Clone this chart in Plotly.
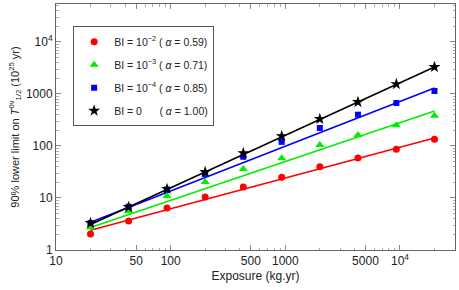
import plotly.graph_objects as go

exposure = [20, 43, 93, 200, 430, 930, 2000, 4300, 9300, 20000]
bi_1e2 = [2.04, 3.6, 6.4, 10.4, 16.3, 25, 40, 59, 87, 135]
bi_1e3 = [2.7, 5.6, 10.9, 20.4, 36, 58, 105, 162, 250, 380]
bi_1e4 = [3.3, 6.8, 14.5, 29, 62, 120, 222, 400, 670, 1140]
bi_0 = [3.3, 6.7, 14.9, 31.6, 73, 155, 330, 700, 1550, 3300]

fit_x = [20, 20000]
fit_1e2 = [2.4, 142]
fit_1e3 = [2.7, 470]
fit_1e4 = [3.4, 1310]
fit_0 = [3.1, 3300]

names = [
    "BI = 10<sup>\u22122</sup> ( <i>\u03b1</i> = 0.59)",
    "BI = 10<sup>\u22123</sup> ( <i>\u03b1</i> = 0.71)",
    "BI = 10<sup>\u22124</sup> ( <i>\u03b1</i> = 0.85)",
    "BI = 0\u00a0\u00a0\u00a0\u00a0\u00a0 ( <i>\u03b1</i> = 1.00)",
]
colors = ["#ff0000", "#00ee00", "#0000ff", "#000000"]
symbols = ["circle", "triangle-up", "square", "star"]
sizes = [7, 8, 6, 9]
series = [bi_1e2, bi_1e3, bi_1e4, bi_0]
fits = [fit_1e2, fit_1e3, fit_1e4, fit_0]

xtickvals = [10, 50, 100, 500, 1000, 5000, 10000]
xticktext = ["10", "50", "100", "500", "1000", "5000", "10<sup>4</sup>"]
ytickvals = [1, 10, 100, 1000, 10000]
yticktext = ["1", "10", "100", "1000", "10<sup>4</sup>"]

minor_vals = []
for d in [1, 10, 100, 1000, 10000]:
    for m in range(2, 10):
        minor_vals.append(m * d)

fig = go.Figure()
for i in range(4):
    fig.add_trace(go.Scatter(x=fit_x, y=fits[i], mode="lines",
                             line=dict(color=colors[i], width=1.6),
                             showlegend=False, hoverinfo="skip"))
for i in range(4):
    fig.add_trace(go.Scatter(x=exposure, y=series[i], mode="markers", name=names[i],
                             marker=dict(color=colors[i], symbol=symbols[i], size=sizes[i],
                                         line=dict(width=0)),
                             legendgroup=str(i)))

axis_common = dict(
    type="log", showgrid=False, zeroline=False, showline=True, automargin=False,
    linecolor="#666666", linewidth=1, mirror="ticks", ticks="inside",
    ticklen=5, tickcolor="#888888", tickfont=dict(family="Liberation Sans, Arial", size=12, color="#222"),
    minor=dict(ticks="inside", ticklen=2.5, tickcolor="#aaaaaa", tickvals=minor_vals),
)

fig.update_layout(
    width=459, height=290,
    margin=dict(l=56, r=4, t=4, b=40),
    plot_bgcolor="white", paper_bgcolor="white",
    font=dict(family="Liberation Sans, Arial", size=12, color="#222"),
    xaxis=dict(axis_common, range=[1, 4.48], tickvals=xtickvals, ticktext=xticktext,
               title=dict(text="Exposure (kg.yr)", font=dict(size=12), standoff=4)),
    yaxis=dict(axis_common, range=[0, 4.73], tickvals=ytickvals, ticktext=yticktext,
               title=dict(text="90% lower limit on <i>T</i><sup>0\u03bd</sup><sub>1/2</sub> (10<sup>25</sup> yr)",
                          font=dict(size=11), standoff=4)),
    legend=dict(x=0.043, y=0.91, xanchor="left", yanchor="top",
                bordercolor="#555555", borderwidth=1, bgcolor="white",
                font=dict(size=10.5), tracegroupgap=4, itemwidth=30),
    showlegend=True,
)

fig.write_html("out.html", config={"displayModeBar": False},
               post_script="document.body.style.margin='0';")
